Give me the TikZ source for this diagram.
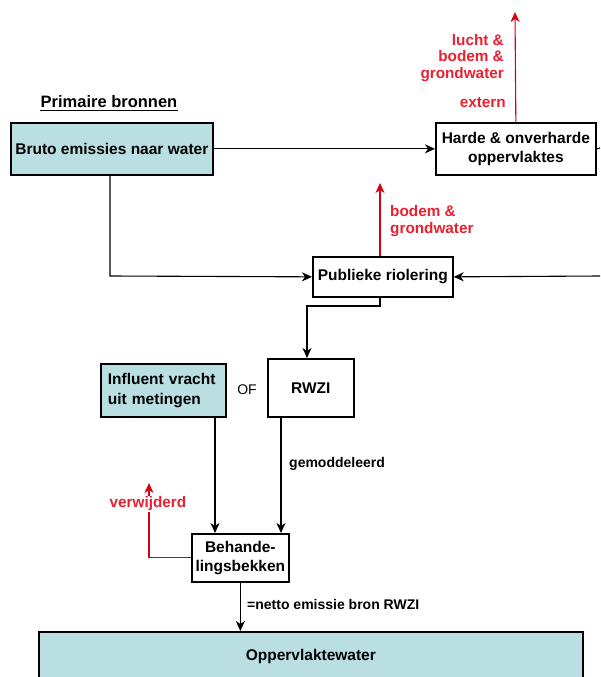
\documentclass[tikz,border=0pt]{standalone}
\usepackage{fontspec}
\setmainfont{Liberation Sans}
\usetikzlibrary{arrows.meta}
\definecolor{boxblue}{RGB}{185,223,227}
\definecolor{redtxt}{RGB}{232,32,48}
\definecolor{redline}{RGB}{214,0,16}
\begin{document}
\begin{tikzpicture}[x=1pt,y=-1pt,
 box/.style={draw=black,line width=1.7pt,inner sep=0pt,font=\bfseries\fontsize{15.5}{19.5}\selectfont,align=center},
 bluebox/.style={box,fill=boxblue},
 conn/.style={line width=1.1pt,-{Stealth[length=10pt,width=9pt,inset=3pt]}},
 redconn/.style={conn,draw=redline},
 redlab/.style={text=redtxt,font=\bfseries\fontsize{15.3}{16.2}\selectfont,inner sep=0pt},
 lab/.style={font=\bfseries\fontsize{14}{15}\selectfont,inner sep=0pt}]
\useasboundingbox (0,0) rectangle (600,677);
% nodes
\node[lab,font=\bfseries\fontsize{16.5}{18}\selectfont] (prim) at (109,102) {Primaire bronnen};
\draw[line width=1.2pt] ([yshift=-2.5pt]prim.base west) -- ([yshift=-2.5pt]prim.base east);
\node[bluebox,minimum width=202pt,minimum height=52pt,anchor=north west] (bruto) at (10,122) {Bruto emissies naar water};
\node[box,minimum width=160pt,minimum height=52pt,anchor=north west] (harde) at (435,122) {Harde \& onverharde\\oppervlaktes};
\node[box,minimum width=140pt,minimum height=40pt,anchor=north west] (publ) at (312,256) {Publieke riolering};
\node[box,minimum width=86pt,minimum height=58pt,anchor=north west] (rwzi) at (267,358) {RWZI};
\node[bluebox,minimum width=125pt,minimum height=53pt,anchor=north west,align=left,text width=111pt] (infl) at (100,363) {Influent vracht\\uit metingen};
\node[box,minimum width=97pt,minimum height=48pt,anchor=north west] (behand) at (191,533) {Behande-\\lingsbekken};
\node[bluebox,minimum width=544pt,minimum height=50pt,anchor=north west] (opp) at (38,631) {Oppervlaktewater};
% free ends
\coordinate (hr) at (600,148);
\coordinate (rr) at (600,276);
\coordinate (htop) at (515,12);
\coordinate (ptop) at (380,183);
\coordinate (vtop) at (149,483);
\coordinate (c1) at (215,0);
\coordinate (c2) at (281,0);
\coordinate (c3) at (380,0);
% connectors
\draw[conn] (bruto.east) -- (harde.west);
\draw[line width=1.1pt] (harde.east) -- (hr);
\draw[conn] (bruto.south -| 110,0) -- (110,276) -- (publ.west);
\draw[conn] (rr) -- (publ.east);
\draw[redconn] (harde.north) -- (htop);
\draw[redconn] (publ.north -| c3) -- (ptop);
\draw[conn] (publ.south -| c3) -- (380,306) -| (rwzi.north -| 307,0);
\draw[conn] (infl.south -| c1) -- (behand.north -| c1);
\draw[conn] (rwzi.south -| c2) -- (behand.north -| c2);
\draw[redconn] (behand.west) -| (vtop);
\draw[conn] (behand.south) -- (behand.south |- opp.north);
% labels
\node[redlab,align=right,anchor=east] (l1) at (504,58) {lucht \&\\bodem \&\\grondwater};
\node[redlab,anchor=east] (l2) at (506,103) {extern};
\node[redlab,align=left,anchor=west] (l3) at (390,221) {bodem \&\\grondwater};
\node[redlab,fill=white,inner sep=1pt] (l4) at (148,504) {verwijderd};
\node[lab,font=\fontsize{14}{15}\selectfont] (of) at (247,390) {OF};
\node[lab,anchor=west] (gem) at (289,464) {gemoddeleerd};
\node[lab,anchor=west] (net) at (247,604) {=netto emissie bron RWZI};
\end{tikzpicture}
\end{document}
